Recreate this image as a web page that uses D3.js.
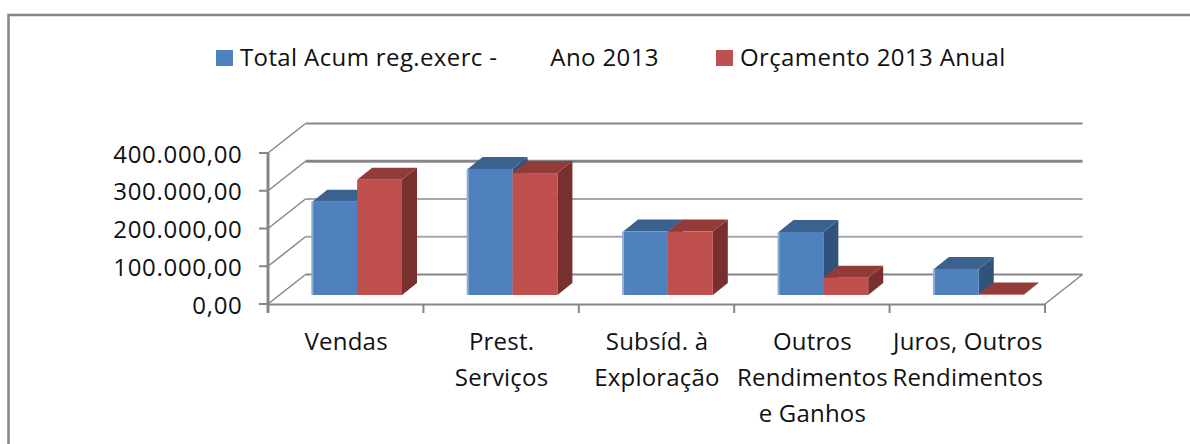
<!DOCTYPE html>
<html><head><meta charset="utf-8">
<script src="https://cdn.jsdelivr.net/npm/d3@7"></script>
<style>html,body{margin:0;background:#fff;overflow:hidden}svg{display:block}text{font-family:"Open Sans",sans-serif;fill:#111}</style>
</head><body><svg id="c" width="1190" height="444"></svg>
<script>
const categories=["Vendas","Prest. Serviços","Subsíd. à Exploração","Outros Rendimentos e Ganhos","Juros, Outros Rendimentos"];
const categoryLines=[["Vendas"],["Prest.","Serviços"],["Subsíd. à","Exploração"],["Outros","Rendimentos","e Ganhos"],["Juros, Outros","Rendimentos"]];
const seriesNames=["Total Acum reg.exerc -        Ano 2013","Orçamento 2013 Anual"];
const totalAcum=[247000,334000,168000,167000,69000];
const orcamento=[305000,323000,168000,46000,1000];
const yTicks=[0,100000,200000,300000,400000];
const yTickLabels=["0,00","100.000,00","200.000,00","300.000,00","400.000,00"];
const colors=[{f:"#4f81bd",t:"#3b618f",s:"#31527a"},{f:"#c0504d",t:"#923c3a",s:"#77302e"}];

const svg=d3.select("#c");
const x=d3.scaleBand().domain(categories).range([268,1045]);
const y=d3.scaleLinear().domain([0,400000]).range([304,153]);
const inner=d3.scaleBand().domain([0,1]).range([44.3,134]);
const wall={dx:37.5,dy:-29.5}, barShift={dx:0,dy:-9}, depth={dx:15,dy:-12};

svg.append("path").attr("d","M8.5,460V15H1200").attr("fill","none").attr("stroke","#868686").attr("stroke-width",2.5);

// walls
const g=svg.append("g").attr("stroke","#868686").attr("fill","none");
yTicks.forEach((t,i)=>{
  const yy=y(t);
  g.append("line").attr("x1",268+wall.dx).attr("x2",1045+wall.dx).attr("y1",yy+wall.dy).attr("y2",yy+wall.dy).attr("stroke-width",i==3?3:2).attr("stroke",i==1||i==2?"#a6a6a6":"#868686");
  g.append("line").attr("x1",268).attr("x2",268+wall.dx).attr("y1",yy).attr("y2",yy+wall.dy).attr("stroke-width",1.5);
  g.append("line").attr("x1",259).attr("x2",268).attr("y1",yy).attr("y2",yy).attr("stroke-width",2);
  svg.append("text").attr("x",242.5).attr("y",yy+(i==0?10:9.5)).attr("text-anchor","end").attr("font-size",24).attr("letter-spacing",0.7).text(yTickLabels[i]);
});
g.append("line").attr("x1",1045).attr("x2",1045+wall.dx).attr("y1",y(0)).attr("y2",y(0)+wall.dy).attr("stroke-width",1.5);
g.append("line").attr("x1",268).attr("x2",268).attr("y1",153).attr("y2",313).attr("stroke-width",3);
g.append("line").attr("x1",268).attr("x2",1045).attr("y1",304.5).attr("y2",304.5).attr("stroke-width",2);
categories.concat([null]).forEach((c,i)=>{const px=c?x(c):1045;
  if(i>0) g.append("line").attr("x1",px).attr("x2",px).attr("y1",304).attr("y2",313).attr("stroke-width",2);});

// bars
const base=y(0)+barShift.dy;
const pts=a=>a.map(p=>p.join(",")).join(" ");
categories.forEach((c,i)=>{
  [totalAcum[i],orcamento[i]].forEach((v,s)=>{
    const x0=x(c)+inner(s), w=inner.bandwidth(), top=y(v)+barShift.dy, col=colors[s];
    svg.append("polygon").attr("points",pts([[x0+w,base],[x0+w+depth.dx,base+depth.dy],[x0+w+depth.dx,top+depth.dy],[x0+w,top]])).attr("fill",col.s);
    svg.append("polygon").attr("points",pts([[x0,top],[x0+depth.dx,top+depth.dy],[x0+w+depth.dx,top+depth.dy],[x0+w,top]])).attr("fill",col.t);
    svg.append("rect").attr("x",x0).attr("y",top).attr("width",w).attr("height",base-top).attr("fill",col.f);
    if(s==0) svg.append("rect").attr("x",x0-1).attr("y",top).attr("width",2).attr("height",base-top).attr("fill","#8fb0d6");
  });
  categoryLines[i].forEach((l,k)=>svg.append("text").attr("x",x(c)+x.bandwidth()/2+0.5).attr("y",350+k*36).attr("text-anchor","middle").attr("font-size",24).attr("letter-spacing",0.2).text(l));
});

// legend
[[216,seriesNames[0],240],[716,seriesNames[1],740]].forEach((d,i)=>{
  svg.append("rect").attr("x",d[0]).attr("y",50).attr("width",17).attr("height",16).attr("fill",colors[i].f);
  svg.append("text").attr("x",d[2]).attr("y",66).attr("font-size",24).attr("letter-spacing",0.38).style("white-space","pre").text(d[1]);
});
</script></body></html>
